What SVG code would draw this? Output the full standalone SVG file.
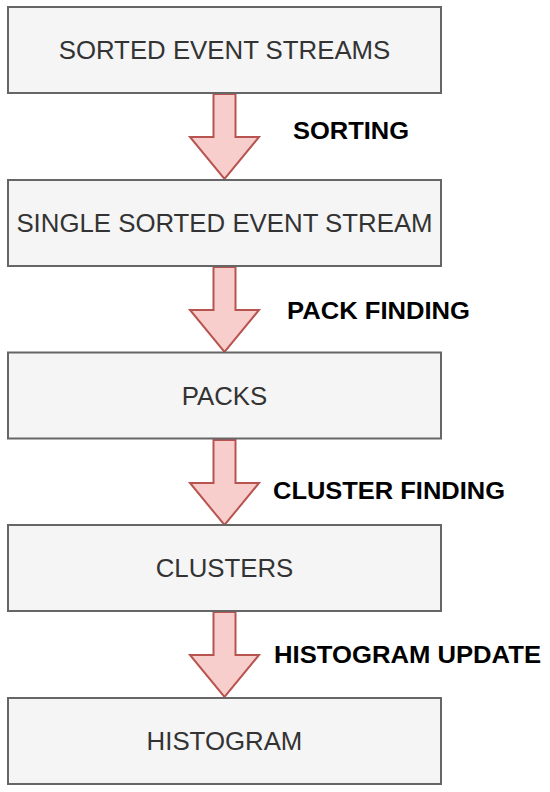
<svg xmlns="http://www.w3.org/2000/svg" width="550" height="792" viewBox="0 0 550 792">
<style>
.box{fill:#f5f5f5;stroke:#666666;stroke-width:2}
.bt{font-family:"Liberation Sans",Arial,sans-serif;font-size:25.8px;fill:#333333;text-anchor:middle;dominant-baseline:central}
.arr{fill:#f8cecc;stroke:#b85450;stroke-width:2;stroke-linejoin:miter}
.lb{font-family:"Liberation Sans",Arial,sans-serif;font-size:23px;font-weight:bold;fill:#000000;dominant-baseline:central}
</style>
<rect width="550" height="792" fill="#ffffff"/>
<g id="connectors">
<polygon class="arr" points="213.5,94 235.5,94 235.5,137 259,137 224.5,179 190,137 213.5,137"/>
<polygon class="arr" points="213.5,267 235.5,267 235.5,310 259,310 224.5,352 190,310 213.5,310"/>
<polygon class="arr" points="213.5,440 235.5,440 235.5,483 259,483 224.5,525 190,483 213.5,483"/>
<polygon class="arr" points="213.5,612 235.5,612 235.5,655 259,655 224.5,697 190,655 213.5,655"/>
<text class="lb" x="293" y="131" textLength="116" lengthAdjust="spacingAndGlyphs">SORTING</text>
<text class="lb" x="287" y="311" textLength="183" lengthAdjust="spacingAndGlyphs">PACK FINDING</text>
<text class="lb" x="273" y="491" textLength="232" lengthAdjust="spacingAndGlyphs">CLUSTER FINDING</text>
<text class="lb" x="274" y="655" textLength="267" lengthAdjust="spacingAndGlyphs">HISTOGRAM UPDATE</text>
</g>
<g id="n1"><rect class="box" x="8" y="7" width="433" height="86"/><text class="bt" x="224.5" y="50">SORTED EVENT STREAMS</text></g>
<g id="n2"><rect class="box" x="8" y="180" width="433" height="86"/><text class="bt" x="224.5" y="223">SINGLE SORTED EVENT STREAM</text></g>
<g id="n3"><rect class="box" x="8" y="352.5" width="433" height="86"/><text class="bt" x="224.5" y="395.5">PACKS</text></g>
<g id="n4"><rect class="box" x="8" y="525" width="433" height="86"/><text class="bt" x="224.5" y="568">CLUSTERS</text></g>
<g id="n5"><rect class="box" x="8" y="698" width="433" height="86"/><text class="bt" x="224.5" y="741">HISTOGRAM</text></g>
</svg>
